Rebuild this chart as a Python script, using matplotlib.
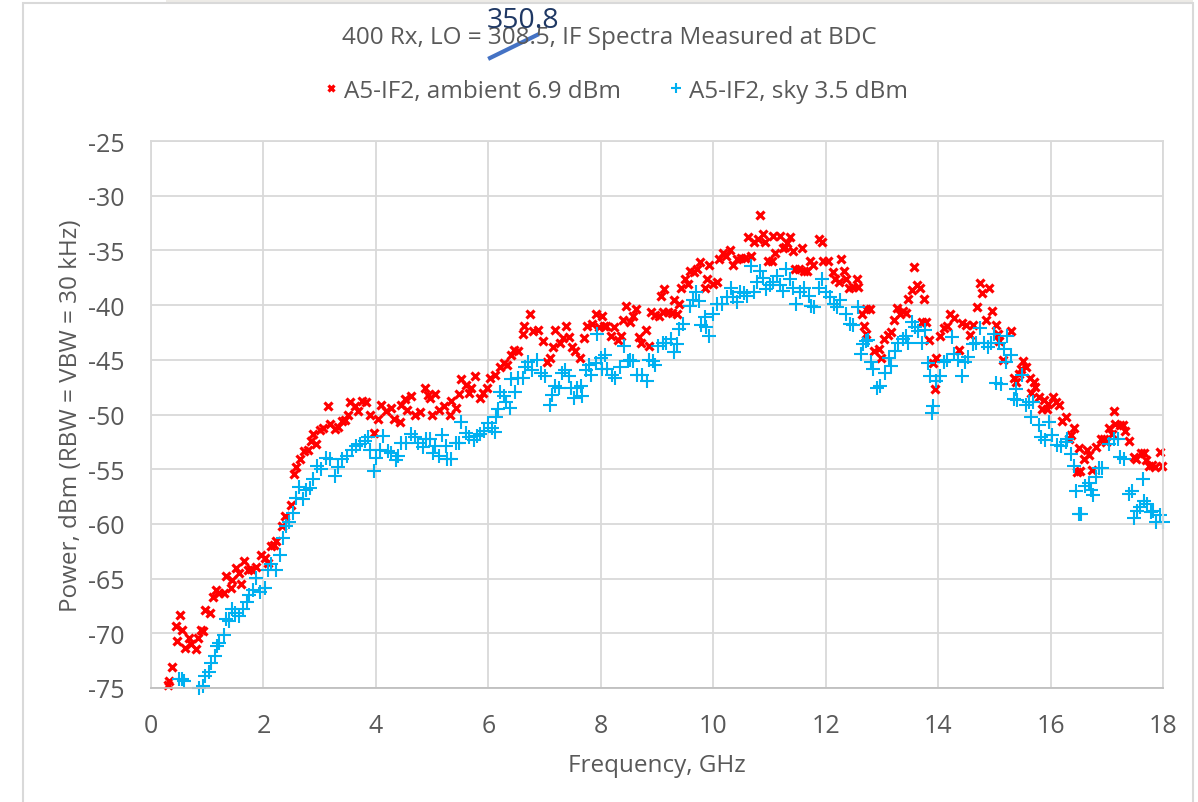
import numpy as np
import matplotlib.pyplot as plt
from matplotlib.lines import Line2D
from matplotlib.patches import Rectangle

# ambient spectrum (red x), GHz / dBm
amb_f = [0.31, 0.32, 0.38, 0.44, 0.47, 0.52, 0.55, 0.61, 0.67, 0.71, 0.80, 0.83, 0.89, 0.92, 0.96,
         1.05, 1.11, 1.15, 1.21, 1.30, 1.33, 1.42, 1.44, 1.51, 1.56, 1.60, 1.66, 1.72, 1.78, 1.87,
         1.96, 2.02, 2.08, 2.14, 2.18, 2.23, 2.33, 2.39, 2.49, 2.55, 2.58, 2.65, 2.73, 2.79, 2.85,
         2.89, 2.94, 3.00, 3.06, 3.15, 3.18, 3.27, 3.33, 3.39, 3.45, 3.51, 3.54, 3.63, 3.68, 3.76,
         3.83, 3.89, 3.96, 4.04, 4.09, 4.18, 4.27, 4.33, 4.42, 4.45, 4.51, 4.55, 4.63, 4.70, 4.78,
         4.87, 4.93, 4.97, 5.00, 5.05, 5.13, 5.22, 5.31, 5.34, 5.42, 5.48, 5.52, 5.60, 5.66, 5.70,
         5.76, 5.85, 5.91, 5.97, 6.03, 6.12, 6.20, 6.27, 6.33, 6.40, 6.45, 6.52, 6.61, 6.64, 6.75,
         6.80, 6.88, 6.97, 7.04, 7.10, 7.15, 7.19, 7.27, 7.33, 7.39, 7.43, 7.49, 7.55, 7.63, 7.70,
         7.76, 7.85, 7.91, 7.97, 8.02, 8.06, 8.10, 8.19, 8.24, 8.30, 8.36, 8.40, 8.45, 8.52, 8.57,
         8.62, 8.68, 8.72, 8.80, 8.85, 8.90, 8.96, 9.04, 9.07, 9.11, 9.13, 9.20, 9.27, 9.30, 9.35,
         9.39, 9.42, 9.49, 9.55, 9.58, 9.65, 9.71, 9.77, 9.85, 9.89, 9.93, 10.00, 10.06, 10.11, 10.17,
         10.23, 10.30, 10.35, 10.42, 10.49, 10.57, 10.61, 10.68, 10.72, 10.80, 10.83, 10.88, 10.92, 10.98, 11.04,
         11.07, 11.10, 11.18, 11.24, 11.28, 11.31, 11.37, 11.42, 11.46, 11.52, 11.58, 11.61, 11.67, 11.73, 11.77,
         11.88, 11.94, 11.96, 12.05, 12.13, 12.17, 12.23, 12.27, 12.33, 12.37, 12.41, 12.49, 12.55, 12.58, 12.64,
         12.68, 12.71, 12.72, 12.79, 12.86, 12.94, 12.99, 13.04, 13.10, 13.16, 13.21, 13.26, 13.32, 13.38, 13.43,
         13.47, 13.53, 13.57, 13.62, 13.68, 13.72, 13.75, 13.79, 13.84, 13.91, 13.94, 13.97, 14.03, 14.10, 14.15,
         14.21, 14.28, 14.37, 14.43, 14.50, 14.56, 14.62, 14.69, 14.74, 14.78, 14.85, 14.91, 14.96, 15.03, 15.06,
         15.08, 15.16, 15.30, 15.35, 15.38, 15.44, 15.47, 15.51, 15.56, 15.63, 15.66, 15.70, 15.73, 15.79, 15.84,
         15.88, 15.93, 15.96, 16.05, 16.09, 16.15, 16.21, 16.27, 16.33, 16.36, 16.41, 16.47, 16.50, 16.53, 16.60,
         16.65, 16.68, 16.74, 16.80, 16.89, 16.95, 16.99, 17.04, 17.09, 17.12, 17.15, 17.23, 17.29, 17.33, 17.39,
         17.48, 17.52, 17.60, 17.66, 17.69, 17.75, 17.81, 17.86, 17.94, 17.98]
amb_p = [-74.7, -74.4, -73.1, -69.3, -70.7, -68.3, -69.7, -71.3, -70.4, -71.0, -71.4, -70.4, -69.7, -69.8, -67.9,
         -68.1, -66.7, -66.0, -66.3, -66.3, -64.8, -65.9, -65.1, -64.0, -64.5, -65.5, -63.4, -64.2, -64.1, -63.9,
         -62.8, -63.1, -63.6, -62.0, -61.9, -61.6, -60.2, -59.3, -58.3, -55.4, -54.8, -54.1, -53.3, -53.2, -52.4,
         -51.8, -52.7, -51.4, -51.2, -49.2, -50.9, -51.3, -51.1, -50.6, -50.5, -50.0, -48.9, -49.2, -49.7, -48.8,
         -48.9, -50.0, -51.7, -50.4, -49.1, -49.7, -49.4, -50.4, -50.7, -49.1, -48.6, -49.6, -48.3, -50.0, -49.8,
         -47.6, -48.2, -48.5, -50.0, -48.1, -49.6, -49.2, -50.0, -48.8, -49.4, -48.1, -46.8, -47.3, -48.0, -47.6,
         -46.5, -48.5, -48.0, -47.6, -46.7, -46.4, -45.7, -45.3, -45.5, -44.6, -44.1, -44.2, -42.6, -41.9, -40.8,
         -42.4, -42.3, -43.3, -45.2, -44.8, -43.8, -42.3, -43.5, -43.0, -41.9, -42.9, -43.8, -44.2, -44.8, -43.0,
         -41.9, -41.7, -40.8, -42.0, -41.0, -41.9, -41.9, -42.8, -42.0, -43.2, -42.8, -41.4, -40.1, -41.5, -41.0,
         -40.4, -42.9, -43.5, -42.3, -43.7, -40.6, -40.9, -41.0, -39.2, -40.6, -38.5, -40.6, -40.7, -39.5, -40.8,
         -39.9, -38.4, -37.6, -38.1, -36.9, -37.0, -36.7, -36.1, -38.4, -37.6, -36.3, -38.1, -37.9, -35.8, -35.2,
         -35.5, -35.0, -36.3, -35.8, -35.7, -35.7, -33.8, -35.5, -34.2, -34.0, -31.8, -33.5, -34.2, -36.0, -36.0,
         -33.7, -35.2, -33.7, -34.8, -34.7, -34.3, -33.8, -35.1, -36.7, -36.7, -34.8, -36.9, -36.9, -36.0, -36.3,
         -34.0, -34.2, -36.0, -36.0, -37.0, -37.6, -37.9, -35.8, -36.9, -37.6, -38.4, -38.3, -37.6, -38.3, -40.8,
         -41.9, -40.4, -42.6, -40.4, -44.2, -44.0, -44.8, -43.1, -42.7, -42.5, -41.4, -40.3, -40.8, -40.5, -40.7,
         -39.4, -38.6, -36.5, -38.2, -38.4, -41.5, -39.4, -41.5, -43.2, -45.3, -47.7, -44.8, -42.8, -42.1, -41.9,
         -40.8, -41.2, -44.1, -41.6, -41.8, -42.7, -41.8, -40.2, -38.0, -38.9, -41.4, -38.4, -40.5, -41.8, -42.6,
         -43.3, -45.0, -42.4, -46.7, -47.0, -46.3, -45.8, -45.1, -45.7, -46.7, -48.0, -47.0, -47.5, -48.4, -49.5,
         -48.7, -49.5, -49.0, -48.4, -48.9, -49.1, -50.6, -50.2, -52.2, -51.9, -51.2, -55.3, -53.1, -55.2, -54.1,
         -53.2, -53.7, -55.1, -53.0, -52.2, -52.2, -52.5, -51.2, -51.8, -49.7, -50.9, -51.0, -51.0, -51.5, -52.4,
         -53.9, -54.1, -53.5, -53.5, -54.2, -54.7, -54.6, -54.8, -53.4, -54.7]

# sky spectrum (blue +)
sky_f = [0.50, 0.56, 0.59, 0.85, 0.92, 0.96, 1.04, 1.07, 1.13, 1.18, 1.21, 1.30, 1.33, 1.38, 1.44,
         1.50, 1.56, 1.63, 1.70, 1.75, 1.81, 1.86, 1.93, 2.02, 2.08, 2.14, 2.23, 2.29, 2.35, 2.40,
         2.46, 2.52, 2.58, 2.64, 2.71, 2.76, 2.82, 2.88, 2.95, 3.03, 3.11, 3.18, 3.27, 3.33, 3.40,
         3.48, 3.57, 3.64, 3.71, 3.80, 3.86, 3.90, 3.96, 4.01, 4.07, 4.13, 4.21, 4.27, 4.35, 4.39,
         4.45, 4.54, 4.63, 4.69, 4.75, 4.84, 4.90, 4.96, 5.01, 5.05, 5.13, 5.18, 5.24, 5.27, 5.33,
         5.42, 5.48, 5.52, 5.60, 5.66, 5.74, 5.80, 5.86, 5.93, 5.99, 6.06, 6.11, 6.14, 6.18, 6.20,
         6.28, 6.32, 6.38, 6.41, 6.48, 6.53, 6.62, 6.66, 6.71, 6.78, 6.86, 6.94, 7.01, 7.10, 7.14,
         7.19, 7.25, 7.31, 7.37, 7.43, 7.47, 7.53, 7.58, 7.64, 7.67, 7.74, 7.79, 7.83, 7.91, 7.93,
         8.01, 8.03, 8.07, 8.11, 8.20, 8.26, 8.34, 8.41, 8.48, 8.52, 8.58, 8.65, 8.74, 8.82, 8.86,
         8.92, 8.96, 9.02, 9.10, 9.16, 9.25, 9.30, 9.36, 9.39, 9.47, 9.58, 9.64, 9.70, 9.75, 9.79,
         9.85, 9.88, 9.93, 10.00, 10.07, 10.15, 10.24, 10.31, 10.35, 10.42, 10.48, 10.55, 10.60, 10.67, 10.73,
         10.77, 10.83, 10.89, 10.94, 11.01, 11.07, 11.13, 11.19, 11.24, 11.30, 11.37, 11.42, 11.48, 11.54, 11.61,
         11.70, 11.74, 11.80, 11.88, 11.94, 12.01, 12.08, 12.14, 12.21, 12.26, 12.37, 12.43, 12.49, 12.57, 12.63,
         12.66, 12.71, 12.76, 12.80, 12.85, 12.91, 12.97, 13.06, 13.12, 13.16, 13.24, 13.29, 13.37, 13.43, 13.47,
         13.53, 13.59, 13.65, 13.71, 13.76, 13.82, 13.86, 13.89, 13.91, 13.97, 14.03, 14.10, 14.15, 14.24, 14.28,
         14.35, 14.43, 14.47, 14.53, 14.62, 14.68, 14.74, 14.82, 14.88, 14.94, 15.00, 15.03, 15.08, 15.11, 15.17,
         15.20, 15.22, 15.30, 15.35, 15.38, 15.41, 15.50, 15.56, 15.62, 15.65, 15.69, 15.79, 15.83, 15.91, 15.97,
         16.03, 16.12, 16.18, 16.27, 16.30, 16.36, 16.41, 16.46, 16.50, 16.54, 16.62, 16.68, 16.72, 16.76, 16.80,
         16.86, 16.92, 17.04, 17.12, 17.20, 17.24, 17.30, 17.39, 17.45, 17.49, 17.54, 17.59, 17.64, 17.67, 17.72,
         17.79, 17.83, 17.88, 17.94, 18.00]
sky_p = [-74.2, -74.2, -74.4, -75.0, -74.8, -73.9, -73.5, -72.7, -72.1, -71.2, -70.9, -70.2, -68.7, -68.9, -67.8,
         -68.1, -68.4, -67.8, -67.1, -66.5, -66.0, -64.9, -66.2, -65.9, -64.2, -63.7, -64.2, -62.8, -61.3, -60.2,
         -59.8, -59.0, -57.6, -56.6, -57.7, -56.9, -56.7, -55.9, -54.7, -55.0, -54.0, -54.1, -55.6, -54.8, -54.1,
         -53.8, -53.2, -52.9, -52.7, -52.4, -52.1, -53.2, -55.2, -54.0, -53.2, -52.0, -53.3, -53.5, -54.2, -53.8,
         -52.6, -52.6, -51.8, -52.1, -52.6, -53.0, -52.2, -52.2, -53.5, -52.9, -53.8, -51.9, -52.9, -54.1, -54.1,
         -52.6, -52.6, -50.7, -51.7, -52.1, -52.3, -52.0, -51.8, -51.5, -50.8, -51.2, -51.6, -50.2, -49.5, -47.9,
         -48.3, -48.9, -49.4, -46.8, -47.9, -46.7, -46.7, -45.7, -45.2, -45.9, -45.0, -46.2, -46.5, -49.1, -48.2,
         -47.4, -47.6, -46.2, -45.9, -46.5, -47.6, -48.5, -47.6, -47.4, -48.3, -45.9, -45.5, -46.4, -45.3, -42.6,
         -44.8, -45.8, -44.6, -45.8, -46.4, -46.7, -45.7, -43.7, -45.1, -45.0, -45.1, -46.4, -46.4, -46.9, -45.0,
         -45.1, -45.5, -43.7, -43.5, -43.5, -43.1, -44.3, -43.6, -42.2, -41.7, -40.1, -39.5, -38.8, -39.6, -41.8,
         -41.1, -42.0, -42.8, -40.8, -39.9, -39.9, -39.3, -38.4, -39.3, -39.7, -38.8, -38.9, -39.2, -36.4, -38.8,
         -37.9, -36.9, -37.5, -38.5, -38.2, -37.9, -37.3, -38.2, -38.7, -36.7, -37.6, -38.4, -39.9, -38.8, -38.4,
         -39.2, -40.1, -40.2, -38.4, -37.6, -38.8, -39.3, -39.9, -40.2, -39.5, -40.8, -41.7, -41.8, -40.2, -44.5,
         -43.6, -43.3, -43.2, -45.2, -45.8, -47.6, -47.4, -46.2, -44.8, -45.6, -44.2, -43.5, -43.1, -42.8, -43.5,
         -41.5, -42.0, -42.4, -43.5, -42.3, -45.3, -46.5, -49.9, -49.2, -46.9, -46.5, -45.2, -45.0, -42.9, -44.5,
         -45.0, -46.5, -45.2, -44.7, -43.6, -43.5, -42.1, -43.5, -43.8, -43.5, -42.6, -47.1, -43.5, -47.2, -44.0,
         -45.2, -42.8, -44.6, -48.6, -47.7, -48.7, -46.4, -49.1, -48.9, -50.2, -48.9, -51.0, -52.1, -52.3, -50.7,
         -51.9, -52.8, -52.9, -52.5, -52.2, -53.6, -54.7, -57.0, -59.1, -59.1, -56.5, -56.3, -56.9, -57.4, -55.7,
         -54.9, -54.9, -52.7, -52.2, -52.2, -53.9, -54.1, -57.3, -57.0, -59.5, -58.8, -58.5, -55.9, -57.9, -58.2,
         -58.9, -58.8, -59.8, -59.2, -59.8]

x_ticks = np.arange(0, 19, 2)
y_ticks = np.arange(-75, -24, 5)

plt.rcParams["font.family"] = ["Open Sans", "DejaVu Sans"]
plt.rcParams["axes.unicode_minus"] = False
txt = "#595959"
grid = "#D9D9D9"

fig = plt.figure(figsize=(11.98, 8.03), dpi=100)
ax = fig.add_axes([151 / 1198, 1 - 689 / 803, 1012 / 1198, 547 / 803])

# screenshot frame
fig.add_artist(Rectangle((166 / 1198, 1 - 4 / 803), 1027 / 1198, 4 / 803,
                         transform=fig.transFigure, color="#EDEBE7", lw=0))
fig.add_artist(Rectangle((23 / 1198, -0.05), 1170 / 1198, 1.05 - 4 / 803,
                         transform=fig.transFigure, fill=False, ec=grid, lw=1.5))

ax.plot(amb_f, amb_p, ls="none", marker="x", ms=5.5, mew=2.3, color="#FF0000",
        label="A5-IF2, ambient 6.9 dBm", clip_on=False)
ax.plot(sky_f, sky_p, ls="none", marker="+", ms=9.5, mew=1.5, color="#00B0F0",
        label="A5-IF2, sky 3.5 dBm", clip_on=False)

ax.set_xlim(0, 18)
ax.set_ylim(-75, -25)
ax.set_xticks(x_ticks)
ax.set_yticks(y_ticks)
ax.grid(True, color=grid, lw=1.3)
ax.set_axisbelow(True)
for s in ax.spines.values():
    s.set_color(grid)
    s.set_linewidth(1.3)
ax.spines["bottom"].set_color("#BFBFBF")
ax.tick_params(length=0, labelsize=18, labelcolor=txt)
ax.tick_params(axis="y", pad=19)
ax.tick_params(axis="x", pad=18)

ax.set_xlabel("Frequency, GHz", fontsize=17.5, color=txt)
ax.set_ylabel("Power, dBm (RBW = VBW = 30 kHz)", fontsize=17.5, color=txt)
ax.xaxis.set_label_coords(0.5, -0.118)
ax.yaxis.set_label_coords(-0.067, 0.5)

fig.text(0.509, 1 - 38 / 803, "400 Rx, LO = 308.5, IF Spectra Measured at BDC",
         ha="center", va="center", fontsize=17.5, color=txt)
# handwritten correction over the LO value
fig.text(523 / 1198, 1 - 21 / 803, "350.8", ha="center", va="center",
         fontsize=20.5, color="#1F3864")
fig.add_artist(Line2D([490 / 1198, 537 / 1198], [1 - 59 / 803, 1 - 36 / 803],
                      transform=fig.transFigure, color="#4472C4", lw=3))

fig.legend(loc="center", bbox_to_anchor=(0.512, 1 - 92 / 803), ncol=2, frameon=False,
           fontsize=17.5, labelcolor=txt, handletextpad=0.0, columnspacing=1.8,
           handlelength=1.0, markerscale=0.8)

fig.savefig("out.png", dpi=100)
